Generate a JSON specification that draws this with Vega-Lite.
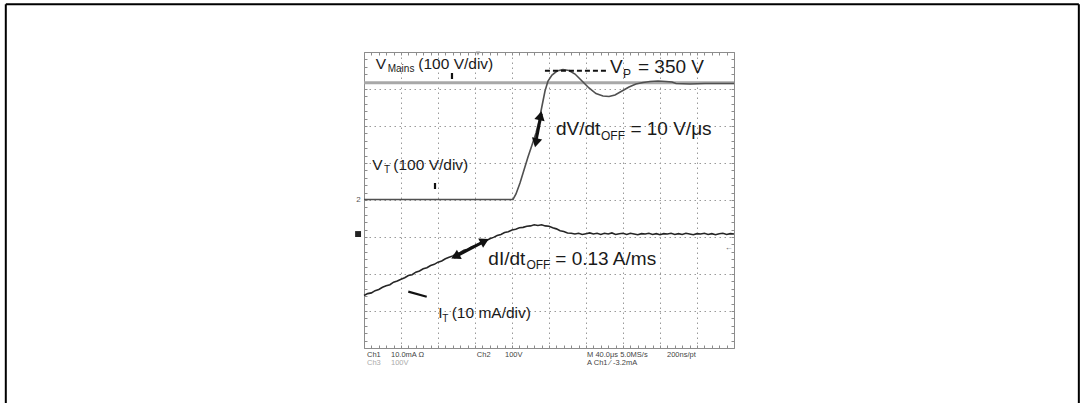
{
  "$schema": "https://vega.github.io/schema/vega-lite/v6.json",
  "width": 370,
  "height": 296,
  "autosize": {"type": "none"},
  "padding": {"left": 364, "top": 52, "right": 346, "bottom": 55},
  "background": "white",
  "config": {"view": {"stroke": "#8c8c8c", "strokeWidth": 1}},
  "datasets": {
    "mains": [{"x": 0, "y": 7.17}, {"x": 10, "y": 7.17}],
    "vt": [
      {"x": 0, "y": 4.014}, {"x": 4.027, "y": 4.014}, {"x": 4.108, "y": 4.162}, {"x": 4.216, "y": 4.459},
      {"x": 4.324, "y": 4.811}, {"x": 4.432, "y": 5.162}, {"x": 4.541, "y": 5.486}, {"x": 4.649, "y": 5.811},
      {"x": 4.73, "y": 6.135}, {"x": 4.811, "y": 6.541}, {"x": 4.892, "y": 6.946}, {"x": 4.973, "y": 7.216},
      {"x": 5.081, "y": 7.378}, {"x": 5.216, "y": 7.486}, {"x": 5.378, "y": 7.527}, {"x": 5.541, "y": 7.5},
      {"x": 5.703, "y": 7.405}, {"x": 5.892, "y": 7.216}, {"x": 6.081, "y": 7.027}, {"x": 6.27, "y": 6.878},
      {"x": 6.459, "y": 6.811}, {"x": 6.622, "y": 6.797}, {"x": 6.784, "y": 6.838}, {"x": 6.973, "y": 6.946},
      {"x": 7.162, "y": 7.054}, {"x": 7.351, "y": 7.135}, {"x": 7.541, "y": 7.176}, {"x": 7.73, "y": 7.203},
      {"x": 7.946, "y": 7.216}, {"x": 8.162, "y": 7.203}, {"x": 8.324, "y": 7.189}, {"x": 8.432, "y": 7.149},
      {"x": 8.811, "y": 7.135}, {"x": 9.216, "y": 7.149}, {"x": 10, "y": 7.149}
    ],
    "it": [
      {"x": 0.0, "y": 1.42}, {"x": 0.1, "y": 1.47}, {"x": 0.2, "y": 1.49}, {"x": 0.3, "y": 1.55}, {"x": 0.4, "y": 1.58},
      {"x": 0.5, "y": 1.64}, {"x": 0.6, "y": 1.68}, {"x": 0.7, "y": 1.71}, {"x": 0.8, "y": 1.78}, {"x": 0.9, "y": 1.81},
      {"x": 1.0, "y": 1.86}, {"x": 1.1, "y": 1.9}, {"x": 1.2, "y": 1.96}, {"x": 1.3, "y": 1.98}, {"x": 1.4, "y": 2.05},
      {"x": 1.5, "y": 2.08}, {"x": 1.6, "y": 2.14}, {"x": 1.7, "y": 2.17}, {"x": 1.8, "y": 2.23}, {"x": 1.9, "y": 2.26},
      {"x": 2.0, "y": 2.32}, {"x": 2.1, "y": 2.35}, {"x": 2.2, "y": 2.41}, {"x": 2.3, "y": 2.45}, {"x": 2.4, "y": 2.49},
      {"x": 2.5, "y": 2.55}, {"x": 2.6, "y": 2.58}, {"x": 2.7, "y": 2.64}, {"x": 2.8, "y": 2.67}, {"x": 2.9, "y": 2.73},
      {"x": 3.0, "y": 2.77}, {"x": 3.1, "y": 2.81}, {"x": 3.2, "y": 2.86}, {"x": 3.3, "y": 2.9}, {"x": 3.4, "y": 2.95},
      {"x": 3.5, "y": 2.99}, {"x": 3.6, "y": 3.04}, {"x": 3.7, "y": 3.07}, {"x": 3.8, "y": 3.12}, {"x": 3.9, "y": 3.14},
      {"x": 4.0, "y": 3.19}, {"x": 4.1, "y": 3.21}, {"x": 4.2, "y": 3.25}, {"x": 4.3, "y": 3.26}, {"x": 4.4, "y": 3.29},
      {"x": 4.5, "y": 3.3}, {"x": 4.6, "y": 3.33}, {"x": 4.7, "y": 3.31}, {"x": 4.8, "y": 3.33}, {"x": 4.9, "y": 3.3},
      {"x": 5.0, "y": 3.29}, {"x": 5.1, "y": 3.25}, {"x": 5.2, "y": 3.22}, {"x": 5.3, "y": 3.17}, {"x": 5.4, "y": 3.15},
      {"x": 5.5, "y": 3.11}, {"x": 5.6, "y": 3.1}, {"x": 5.7, "y": 3.08}, {"x": 5.8, "y": 3.1}, {"x": 5.9, "y": 3.07},
      {"x": 6.0, "y": 3.09}, {"x": 6.1, "y": 3.11}, {"x": 6.2, "y": 3.08}, {"x": 6.3, "y": 3.1}, {"x": 6.4, "y": 3.07},
      {"x": 6.5, "y": 3.1}, {"x": 6.6, "y": 3.08}, {"x": 6.7, "y": 3.11}, {"x": 6.8, "y": 3.07}, {"x": 6.9, "y": 3.09},
      {"x": 7.0, "y": 3.1}, {"x": 7.1, "y": 3.07}, {"x": 7.2, "y": 3.1}, {"x": 7.3, "y": 3.08}, {"x": 7.4, "y": 3.06},
      {"x": 7.5, "y": 3.09}, {"x": 7.6, "y": 3.08}, {"x": 7.7, "y": 3.1}, {"x": 7.8, "y": 3.07}, {"x": 7.9, "y": 3.09},
      {"x": 8.0, "y": 3.06}, {"x": 8.1, "y": 3.09}, {"x": 8.2, "y": 3.08}, {"x": 8.3, "y": 3.1}, {"x": 8.4, "y": 3.07},
      {"x": 8.5, "y": 3.09}, {"x": 8.6, "y": 3.07}, {"x": 8.7, "y": 3.1}, {"x": 8.8, "y": 3.08}, {"x": 8.9, "y": 3.06},
      {"x": 9.0, "y": 3.09}, {"x": 9.1, "y": 3.08}, {"x": 9.2, "y": 3.1}, {"x": 9.3, "y": 3.07}, {"x": 9.4, "y": 3.09},
      {"x": 9.5, "y": 3.06}, {"x": 9.6, "y": 3.09}, {"x": 9.7, "y": 3.1}, {"x": 9.8, "y": 3.07}, {"x": 9.9, "y": 3.09},
      {"x": 10.0, "y": 3.08}
    ],
    "frame": [
      {"x": -9.681, "y": -2.2, "x2": -9.681, "y2": 9.292},
      {"x": -9.681, "y": 9.292, "x2": 19.32, "y2": 9.292},
      {"x": 19.32, "y": 9.292, "x2": 19.32, "y2": -2.2}
    ],
    "dash": [{"x": 4.89, "x2": 6.62, "y": 7.495, "y2": 7.495}],
    "bars": [
      {"x": 2.378, "y": 7.432, "x2": 2.378, "y2": 7.27},
      {"x": 1.919, "y": 4.459, "x2": 1.919, "y2": 4.297},
      {"x": 1.197, "y": 1.522, "x2": 1.695, "y2": 1.386}
    ],
    "shafts": [
      {"x": 4.79, "y": 6.33, "x2": 4.63, "y2": 5.5},
      {"x": 2.43, "y": 2.45, "x2": 3.3, "y2": 2.91}
    ],
    "hVtop": [{"x": 4.77, "y": 6.28}],
    "hVbot": [{"x": 4.65, "y": 5.546}],
    "hIright": [{"x": 3.262, "y": 2.889}],
    "hIleft": [{"x": 2.468, "y": 2.473}],
    "lab": [
      {"x": 0.316, "y": 7.532, "t": "V"}, {"x": 1.468, "y": 7.532, "t": "(100 V/div)"},
      {"x": 0.224, "y": 4.811, "t": "V"}, {"x": 0.792, "y": 4.811, "t": "(100 V/div)"},
      {"x": 2.008, "y": 0.803, "t": "I"}, {"x": 2.37, "y": 0.803, "t": "(10 mA/div)"}
    ],
    "sub1": [
      {"x": 0.641, "y": 7.468, "t": "Mains"}, {"x": 0.541, "y": 4.722, "t": "T"}, {"x": 2.116, "y": 0.711, "t": "T"}
    ],
    "big": [
      {"x": 6.649, "y": 7.424, "t": "V"}, {"x": 7.405, "y": 7.424, "t": "= 350 V"},
      {"x": 5.19, "y": 5.757, "t": "dV/dt"}, {"x": 7.2, "y": 5.757, "t": "= 10 V/μs"},
      {"x": 3.36, "y": 2.243, "t": "dI/dt"}, {"x": 5.17, "y": 2.243, "t": "= 0.13 A/ms"}
    ],
    "sub2": [
      {"x": 7.0, "y": 7.289, "t": "P"}, {"x": 6.405, "y": 5.622, "t": "OFF"}, {"x": 4.39, "y": 2.127, "t": "OFF"}
    ],
    "botdark": [
      {"x": 0.08, "y": -0.243, "t": "Ch1"}, {"x": 0.73, "y": -0.243, "t": "10.0mA  Ω"},
      {"x": 3.05, "y": -0.243, "t": "Ch2"}, {"x": 3.81, "y": -0.243, "t": "100V"},
      {"x": 6.03, "y": -0.243, "t": "M 40.0μs 5.0MS/s"}, {"x": 8.19, "y": -0.243, "t": "200ns/pt"},
      {"x": 6.03, "y": -0.459, "t": "A  Ch1  ⁄  -3.2mA"}
    ],
    "botgray": [
      {"x": 0.08, "y": -0.459, "t": "Ch3"}, {"x": 0.73, "y": -0.459, "t": "100V"}
    ],
    "smtext": [
      {"x": -0.15, "y": 4.01, "t": "2"}, {"x": 9.86, "y": 2.695, "t": "←"}
    ],
    "ch1mark": [{"x": -0.16, "y": 3.08}],
    "trig": [{"x": 3.08, "y": 7.96}]
  },
  "resolve": {"axis": {"x": "independent", "y": "independent"}},
  "encoding": {
    "x": {"field": "x", "type": "quantitative", "scale": {"domain": [0, 10], "nice": false, "zero": false}, "axis": null},
    "y": {"field": "y", "type": "quantitative", "scale": {"domain": [0, 8], "nice": false, "zero": false}, "axis": null}
  },
  "layer": [
    {
      "data": {"name": "mains"},
      "mark": {"type": "line", "color": "#a8a8a8", "strokeWidth": 3},
      "encoding": {
        "x": {"field": "x", "type": "quantitative", "scale": {"domain": [0, 10], "nice": false, "zero": false},
              "axis": {"orient": "bottom", "values": [1, 2, 3, 4, 5, 6, 7, 8, 9], "grid": true, "gridDash": [1.5, 3.5], "gridColor": "#9a9a9a", "gridWidth": 1, "gridOpacity": 1, "domain": false, "ticks": false, "labels": false, "title": null}},
        "y": {"field": "y", "type": "quantitative", "scale": {"domain": [0, 8], "nice": false, "zero": false},
              "axis": {"orient": "left", "values": [1, 2, 3, 4, 5, 6, 7], "grid": true, "gridDash": [1.5, 3.5], "gridColor": "#9a9a9a", "gridWidth": 1, "gridOpacity": 1, "domain": false, "ticks": false, "labels": false, "title": null}}
      }
    },
    {
      "data": {"name": "vt"},
      "mark": {"type": "line", "color": "#505050", "strokeWidth": 1.6},
      "encoding": {
        "x": {"field": "x", "type": "quantitative", "scale": {"domain": [0, 10], "nice": false, "zero": false},
              "axis": {"orient": "top", "values": [0, 0.2, 0.4, 0.6, 0.8, 1, 1.2, 1.4, 1.6, 1.8, 2, 2.2, 2.4, 2.6, 2.8, 3, 3.2, 3.4, 3.6, 3.8, 4, 4.2, 4.4, 4.6, 4.8, 5, 5.2, 5.4, 5.6, 5.8, 6, 6.2, 6.4, 6.6, 6.8, 7, 7.2, 7.4, 7.6, 7.8, 8, 8.2, 8.4, 8.6, 8.8, 9, 9.2, 9.4, 9.6, 9.8, 10], "grid": false, "domain": false, "ticks": true, "tickSize": -3, "tickColor": "#8c8c8c", "tickWidth": 1, "labels": false, "title": null}},
        "y": {"field": "y", "type": "quantitative", "scale": {"domain": [0, 8], "nice": false, "zero": false},
              "axis": {"orient": "right", "values": [0, 0.2, 0.4, 0.6, 0.8, 1, 1.2, 1.4, 1.6, 1.8, 2, 2.2, 2.4, 2.6, 2.8, 3, 3.2, 3.4, 3.6, 3.8, 4, 4.2, 4.4, 4.6, 4.8, 5, 5.2, 5.4, 5.6, 5.8, 6, 6.2, 6.4, 6.6, 6.8, 7, 7.2, 7.4, 7.6, 7.8, 8], "grid": false, "domain": false, "ticks": true, "tickSize": -3, "tickColor": "#8c8c8c", "tickWidth": 1, "labels": false, "title": null}}
      }
    },
    {
      "data": {"name": "it"},
      "mark": {"type": "line", "color": "#262626", "strokeWidth": 1.6},
      "encoding": {
        "x": {"field": "x", "type": "quantitative", "scale": {"domain": [0, 10], "nice": false, "zero": false},
              "axis": {"orient": "bottom", "values": [0, 0.2, 0.4, 0.6, 0.8, 1, 1.2, 1.4, 1.6, 1.8, 2, 2.2, 2.4, 2.6, 2.8, 3, 3.2, 3.4, 3.6, 3.8, 4, 4.2, 4.4, 4.6, 4.8, 5, 5.2, 5.4, 5.6, 5.8, 6, 6.2, 6.4, 6.6, 6.8, 7, 7.2, 7.4, 7.6, 7.8, 8, 8.2, 8.4, 8.6, 8.8, 9, 9.2, 9.4, 9.6, 9.8, 10], "grid": false, "domain": false, "ticks": true, "tickSize": -3, "tickColor": "#8c8c8c", "tickWidth": 1, "labels": false, "title": null}},
        "y": {"field": "y", "type": "quantitative", "scale": {"domain": [0, 8], "nice": false, "zero": false},
              "axis": {"orient": "left", "values": [0, 0.2, 0.4, 0.6, 0.8, 1, 1.2, 1.4, 1.6, 1.8, 2, 2.2, 2.4, 2.6, 2.8, 3, 3.2, 3.4, 3.6, 3.8, 4, 4.2, 4.4, 4.6, 4.8, 5, 5.2, 5.4, 5.6, 5.8, 6, 6.2, 6.4, 6.6, 6.8, 7, 7.2, 7.4, 7.6, 7.8, 8], "grid": false, "domain": false, "ticks": true, "tickSize": -3, "tickColor": "#8c8c8c", "tickWidth": 1, "labels": false, "title": null}}
      }
    },
    {
      "data": {"name": "frame"},
      "mark": {"type": "rule", "color": "#000000", "strokeWidth": 2},
      "encoding": {"x2": {"field": "x2"}, "y2": {"field": "y2"}}
    },
    {
      "data": {"name": "dash"},
      "mark": {"type": "rule", "color": "#111111", "strokeWidth": 2, "strokeDash": [5, 3]},
      "encoding": {"x2": {"field": "x2"}, "y2": {"field": "y2"}}
    },
    {
      "data": {"name": "bars"},
      "mark": {"type": "rule", "color": "#111111", "strokeWidth": 2.2},
      "encoding": {"x2": {"field": "x2"}, "y2": {"field": "y2"}}
    },
    {
      "data": {"name": "shafts"},
      "mark": {"type": "rule", "color": "#111111", "strokeWidth": 3},
      "encoding": {"x2": {"field": "x2"}, "y2": {"field": "y2"}}
    },
    {
      "data": {"name": "hVtop"},
      "mark": {"type": "point", "shape": "triangle-up", "filled": true, "color": "#111111", "opacity": 1, "size": 110, "angle": 12.9}
    },
    {
      "data": {"name": "hVbot"},
      "mark": {"type": "point", "shape": "triangle-up", "filled": true, "color": "#111111", "opacity": 1, "size": 110, "angle": 192.9}
    },
    {
      "data": {"name": "hIright"},
      "mark": {"type": "point", "shape": "triangle-up", "filled": true, "color": "#111111", "opacity": 1, "size": 110, "angle": 62.6}
    },
    {
      "data": {"name": "hIleft"},
      "mark": {"type": "point", "shape": "triangle-up", "filled": true, "color": "#111111", "opacity": 1, "size": 110, "angle": 242.6}
    },
    {
      "data": {"name": "lab"},
      "mark": {"type": "text", "align": "left", "baseline": "alphabetic", "font": "Liberation Sans", "fontSize": 15.5, "color": "#1a1a1a"},
      "encoding": {"text": {"field": "t"}}
    },
    {
      "data": {"name": "sub1"},
      "mark": {"type": "text", "align": "left", "baseline": "alphabetic", "font": "Liberation Sans", "fontSize": 10, "color": "#1a1a1a"},
      "encoding": {"text": {"field": "t"}}
    },
    {
      "data": {"name": "big"},
      "mark": {"type": "text", "align": "left", "baseline": "alphabetic", "font": "Liberation Sans", "fontSize": 19, "color": "#1a1a1a"},
      "encoding": {"text": {"field": "t"}}
    },
    {
      "data": {"name": "sub2"},
      "mark": {"type": "text", "align": "left", "baseline": "alphabetic", "font": "Liberation Sans", "fontSize": 12, "color": "#1a1a1a"},
      "encoding": {"text": {"field": "t"}}
    },
    {
      "data": {"name": "botdark"},
      "mark": {"type": "text", "align": "left", "baseline": "alphabetic", "font": "Liberation Sans", "fontSize": 7.5, "color": "#444444"},
      "encoding": {"text": {"field": "t"}}
    },
    {
      "data": {"name": "botgray"},
      "mark": {"type": "text", "align": "left", "baseline": "alphabetic", "font": "Liberation Sans", "fontSize": 7.5, "color": "#aaaaaa"},
      "encoding": {"text": {"field": "t"}}
    },
    {
      "data": {"name": "smtext"},
      "mark": {"type": "text", "align": "center", "baseline": "middle", "font": "Liberation Sans", "fontSize": 8, "color": "#555555"},
      "encoding": {"text": {"field": "t"}}
    },
    {
      "data": {"name": "ch1mark"},
      "mark": {"type": "point", "shape": "square", "filled": true, "color": "#222222", "opacity": 1, "size": 35}
    },
    {
      "data": {"name": "trig"},
      "mark": {"type": "point", "shape": "triangle-down", "filled": true, "color": "#999999", "opacity": 1, "size": 20}
    }
  ]
}
